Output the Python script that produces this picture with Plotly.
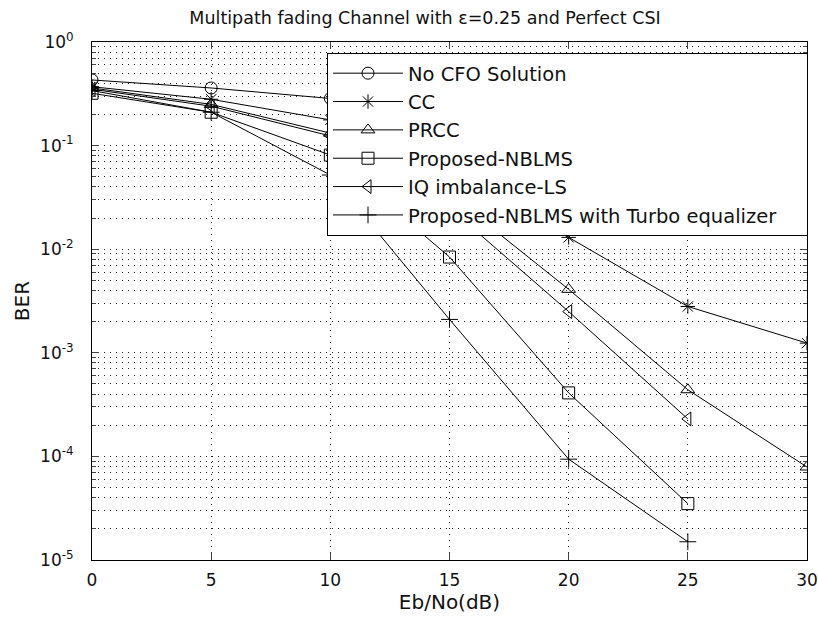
import plotly.graph_objects as go

ebno = [0, 5, 10, 15, 20, 25, 30]
ebno_short = [0, 5, 10, 15, 20, 25]

no_cfo = [0.43, 0.36, 0.285, 0.24, 0.19, 0.15, 0.116]
cc = [0.37, 0.28, 0.177, 0.05, 0.013, 0.0028, 0.00124]
prcc = [0.36, 0.25, 0.132, 0.034, 0.0041, 0.00044, 0.000079]
nblms = [0.32, 0.21, 0.081, 0.0084, 0.00041, 0.000035]
iq_ls = [0.35, 0.24, 0.124, 0.025, 0.0025, 0.00023]
turbo = [0.34, 0.21, 0.052, 0.0021, 0.000094, 0.000015]

names = ["No CFO Solution", "CC", "PRCC", "Proposed-NBLMS", "IQ imbalance-LS",
         "Proposed-NBLMS with Turbo equalizer\u00a0\u00a0\u00a0\u00a0"]
symbols = ["circle-open", "asterisk-open", "triangle-up-open", "square-open",
           "triangle-left-open", "cross-thin-open"]
xs = [ebno, ebno, ebno, ebno_short, ebno_short, ebno_short]
ys = [no_cfo, cc, prcc, nblms, iq_ls, turbo]

ytick_vals = [1e-5, 1e-4, 1e-3, 1e-2, 1e-1, 1]
ytick_text = ["10<sup>-5</sup>", "10<sup>-4</sup>", "10<sup>-3</sup>",
              "10<sup>-2</sup>", "10<sup>-1</sup>", "10<sup>0</sup>"]
xtick_vals = [0, 5, 10, 15, 20, 25, 30]

minor_vals = [m * 10.0 ** e for e in range(-5, 0) for m in range(2, 10)]

W, H = 818, 617
L, R, T, B = 92, W - 807, 42, H - 560

FONT = "DejaVu Sans, Liberation Sans, Arial, sans-serif"
fig = go.Figure()
for i in range(6):
    fig.add_trace(go.Scatter(
        x=xs[i], y=ys[i], name=names[i], mode="lines+markers",
        line=dict(color="black", width=1),
        marker=dict(symbol=symbols[i], size=12, color="black",
                    line=dict(color="black", width=1)),
        legendgroup="g%d" % i,
    ))

grid = dict(showgrid=True, gridcolor="#222", gridwidth=1, griddash="1px,5px")
fig.update_layout(
    width=W, height=H,
    margin=dict(l=L, r=R, t=T, b=B, autoexpand=False),
    paper_bgcolor="white", plot_bgcolor="white",
    font=dict(family=FONT, size=17, color="#111"),
    title=dict(text="Multipath fading Channel with ε=0.25 and Perfect CSI",
               x=425 / W, xanchor="center", xref="container",
               y=1 - 18 / H, yanchor="middle", yref="container",
               font=dict(size=17.5)),
    showlegend=True,
    legend=dict(x=(327 - 92) / 715, y=(560 - 53) / 518, xanchor="left", yanchor="top",
                bgcolor="white", bordercolor="black", borderwidth=1,
                font=dict(size=19.5), itemwidth=70, tracegroupgap=0),
    xaxis=dict(range=[0, 30], tickvals=xtick_vals, ticks="inside", ticklen=7,
               showline=True, linecolor="black", linewidth=1, mirror="ticks",
               zeroline=False, automargin=False, ticklabelstandoff=5,
               title=dict(text="Eb/No(dB)", standoff=1), **grid),
    yaxis=dict(type="log", range=[-5, 0], tickvals=ytick_vals, ticktext=ytick_text,
               ticks="inside", ticklen=7,
               showline=True, linecolor="black", linewidth=1, mirror="ticks",
               zeroline=False, automargin=False, ticklabelstandoff=14,
               minor=dict(tickvals=minor_vals, ticks="inside", ticklen=4,
                          showgrid=True, gridcolor="#222", griddash="1px,5px"),
               title=dict(text="BER", standoff=5), **grid),
)
fig.write_html("out.html", config={"displayModeBar": False},
               post_script="document.body.style.margin='0';document.body.style.overflow='hidden';")
